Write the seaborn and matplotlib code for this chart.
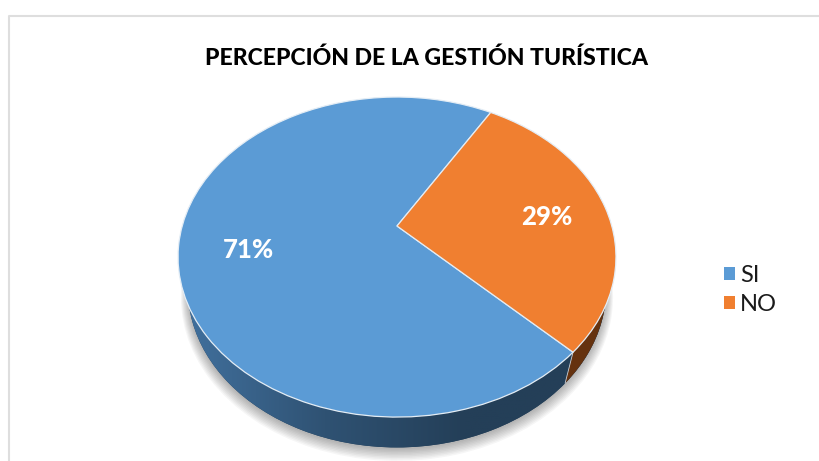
import numpy as np
import matplotlib
matplotlib.use("Agg")
import matplotlib.pyplot as plt
from matplotlib.colors import LinearSegmentedColormap
from matplotlib.patches import Patch
from matplotlib.path import Path
from matplotlib.transforms import Transform
import seaborn as sns

# datos
categorias = ["SI", "NO"]
porcentajes = [71, 29]
titulo = "PERCEPCIÓN DE LA GESTIÓN TURÍSTICA"

sns.set_theme(style="white")
plt.rcParams['font.family'] = ['Lato', 'DejaVu Sans']

colores = sns.color_palette(["#5b9bd5", "#f07f30"])
lateral = sns.color_palette(["#243f58", "#65320f"])
inicio = 59.4  # donde empieza la rebanada SI


# el circulo del pie se inclina con una perspectiva, igual que un pie 3D
class Perspectiva(Transform):
    input_dims = 2
    output_dims = 2

    def __init__(self, sx=1.0, sy=1.0, baja=0.0):
        super().__init__()
        self.sx = sx
        self.sy = sy
        self.baja = baja

    def transform_non_affine(self, values):
        x, y = np.asarray(values).T
        d = 1 + 0.194 * y
        px = 397 + self.sx * 214.8 * x / d
        py = 257 + self.baja - self.sy * (160 * y + 31) / d
        return np.column_stack([px, py])


def dibujar_pie(ax, vals, cols, sx=1.0, sy=1.0, baja=0.0, **wedgeprops):
    wedges, _ = ax.pie(vals, colors=cols, startangle=inicio, wedgeprops=wedgeprops)
    for w in wedges:
        w.set_transform(Perspectiva(sx, sy, baja) + ax.transData)
    return wedges


fig = plt.figure(figsize=(8.2, 4.61), dpi=100)
ax = fig.add_axes([0, 0, 1, 1])

# sombra
for i in range(9):
    dibujar_pie(ax, porcentajes, ["#000000"] * 2, sx=0.955 + i * 0.004, sy=0.99 + i * 0.004, baja=34 + i * 0.8,
                alpha=0.035, linewidth=0)

# lado del pie: disco azul con degradado y el trozo cafe por encima
bajo = dict(sx=0.955, sy=0.99, baja=32)
disco = dibujar_pie(ax, [sum(porcentajes)], [lateral[0]], linewidth=0, **bajo)
cmap = LinearSegmentedColormap.from_list("lado", ["#41709d", "#2f5273", "#243f58", "#243f58"])
grad = ax.imshow(np.linspace(0, 1, 256)[None, :], cmap=cmap, extent=(185, 605, 461, 200), zorder=1.5,
                 interpolation="bilinear", aspect="auto")
grad.set_clip_path(disco[0].get_path(), disco[0].get_transform())

# esquina donde se separan SI y NO, arriba y abajo
ang = np.radians(inicio + 360 * porcentajes[0] / sum(porcentajes))
punto = np.array([[np.cos(ang), np.sin(ang)]])
esq_arriba = Perspectiva().transform(punto)[0]
esq_abajo = Perspectiva(**bajo).transform(punto)[0]

cafe = dibujar_pie(ax, porcentajes, ["none", lateral[1]], linewidth=0, **bajo)
corte = Path([esq_arriba, esq_abajo, esq_abajo + [0, 100], esq_abajo + [150, 100], esq_arriba + [150, -100],
              esq_arriba + [0, -100], esq_arriba], closed=True)
cafe[1].set_zorder(1.6)
cafe[1].set_clip_on(True)  # pie los deja sin clip
cafe[1].set_clip_path(corte, ax.transData)
ax.plot(*zip(esq_arriba, esq_abajo), color="#c9d3dc", linewidth=0.6, zorder=1.7)

# cara de arriba
arriba = dibujar_pie(ax, porcentajes, colores, edgecolor="#e4edf5", linewidth=0.9)
for w in arriba:
    w.set_zorder(2)

ax.set_aspect("auto")
ax.set_xlim(0, 820)
ax.set_ylim(461, 0)
ax.set_xticks([])
ax.set_yticks([])
ax.set_frame_on(False)

# marco del grafico (a la derecha y abajo se sale de la imagen)
ax.plot([9.5, 9.5, 820], [461, 16, 16], color="#dedede", linewidth=1.5, zorder=0)

ax.text(427, 58, titulo, ha="center", va="center", fontsize=16.6, fontweight=900, color="black", zorder=3)

pos_etiquetas = [(249, 250), (547, 217)]
for (x, y), v in zip(pos_etiquetas, porcentajes):
    ax.text(x, y, f"{v}%", ha="center", va="center", fontsize=18.5, fontweight=900, color="white", zorder=3)

handles = [Patch(facecolor=c, edgecolor="none") for c in colores]
ax.legend(handles, categorias, loc="center left", bbox_to_anchor=(0.857, 0.371), frameon=False,
          fontsize=17, handlelength=0.47, handleheight=0.47, handletextpad=0.2, labelspacing=0.36,
          labelcolor="#1a1a1a")

fig.savefig("out.png", dpi=100)
